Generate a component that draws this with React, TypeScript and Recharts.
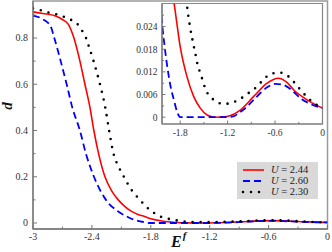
import { LineChart, Line, XAxis, YAxis, ReferenceArea } from 'recharts';

// U = 2.44 (red, solid)
const redX = [-3, -2.9, -2.77, -2.7, -2.64, -2.583, -2.522, -2.471, -2.42, -2.38, -2.332, -2.267, -2.2, -2.132, -2.06, -1.996, -1.93, -1.876, -1.8, -1.715, -1.63, -1.546, -1.46, -1.36, -1.21, -1.04, -0.87, -0.7, -0.56, -0.45, -0.363, -0.195, 0];
const redY = [0.913, 0.906, 0.895, 0.88, 0.859, 0.8, 0.7, 0.6, 0.5, 0.4, 0.3, 0.2, 0.14, 0.1, 0.07, 0.05, 0.037, 0.03, 0.0187, 0.0108, 0.0055, 0.0024, 0.0006, 0, 0.0002, 0.0019, 0.0055, 0.009, 0.0103, 0.0092, 0.0072, 0.0046, 0.0024];

// U = 2.60 (blue, dashed)
const blueX = [-3, -2.895, -2.82, -2.783, -2.718, -2.657, -2.6, -2.522, -2.461, -2.379, -2.257, -2.132, -2.08, -2.03, -1.97, -1.92, -1.88, -1.84, -1.8, -1.5, -1.2, -1.13, -1.05, -0.955, -0.87, -0.786, -0.7, -0.6, -0.52, -0.45, -0.36, -0.28, -0.15, 0];
const blueY = [0.897, 0.88, 0.85, 0.8, 0.7, 0.6, 0.5, 0.4, 0.3, 0.2, 0.1, 0.05, 0.036, 0.025, 0.0144, 0.008, 0.0046, 0.0015, 0, 0, 0, 0.0002, 0.0012, 0.0028, 0.0046, 0.0064, 0.0079, 0.0088, 0.0087, 0.0081, 0.0066, 0.005, 0.0035, 0.0024];

// U = 2.30 (black, dotted)
const blackX = [-3, -2.91, -2.83, -2.73, -2.66, -2.59, -2.53, -2.48, -2.46, -2.44, -2.383, -2.318, -2.264, -2.225, -2.18, -2.13, -2.074, -2.0, -1.91, -1.85, -1.79, -1.74, -1.71, -1.68, -1.64, -1.6, -1.58, -1.546, -1.51, -1.48, -1.42, -1.34, -1.25, -1.14, -1.06, -0.955, -0.83, -0.74, -0.65, -0.545, -0.456, -0.37, -0.31, -0.26, -0.17, -0.09, 0];
const blackY = [0.928, 0.919, 0.909, 0.899, 0.887, 0.873, 0.852, 0.816, 0.8, 0.775, 0.7, 0.6, 0.5, 0.4, 0.3, 0.245, 0.2, 0.145, 0.1, 0.072, 0.05, 0.036, 0.0289, 0.0245, 0.02, 0.016, 0.0139, 0.0117, 0.0094, 0.0074, 0.0055, 0.0041, 0.0035, 0.0039, 0.0046, 0.0061, 0.0081, 0.0101, 0.0115, 0.0118, 0.0112, 0.0095, 0.008, 0.0068, 0.0048, 0.0035, 0.0024];

const mainXMajor = [-3, -2.4, -1.8, -1.2, -0.6, 0];
const mainXMinor = [-2.7, -2.1, -1.5, -0.9, -0.3];
const mainYMajor = [0, 0.2, 0.4, 0.6, 0.8];
const mainYMinor = [0.1, 0.3, 0.5, 0.7, 0.9];

const insetXMajor = [-1.8, -1.2, -0.6, 0];
const insetXMinor = [-1.5, -0.9, -0.3];
const insetYMajor = [0, 0.006, 0.012, 0.018, 0.024];
const insetYMinor = [0.003, 0.009, 0.015, 0.021, 0.027];

const toPoints = (xs: number[], ys: number[]) => xs.map((x, i) => ({ x, y: ys[i] }));

const series = [
  { u: '2.44', pts: toPoints(redX, redY), color: '#ff0000', dash: undefined, width: 1.6, cap: 'butt' },
  { u: '2.60', pts: toPoints(blueX, blueY), color: '#0000ff', dash: '7 4', width: 1.8, cap: 'butt' },
  { u: '2.30', pts: toPoints(blackX, blackY), color: '#000000', dash: '0 8', width: 2.6, cap: 'round' },
];

const FONT = '"Liberation Serif", "Times New Roman", serif';
const AXIS = '#777';
const FRAME = '#9a9a9a';

const isIn = (v: number, list: number[]) => list.some((m) => Math.abs(m - v) < 1e-9);

function makeXTick(major: number[], len: number, minorLen: number, fs: number, dy: number) {
  return (props: any) => {
    const { x, y, payload } = props;
    const big = isIn(payload.value, major);
    return (
      <g>
        <line x1={x} y1={y} x2={x} y2={y - (big ? len : minorLen)} stroke={AXIS} strokeWidth={1} />
        {big && (
          <text x={x} y={y + dy} textAnchor="middle" fontSize={fs} fontFamily={FONT} fill="#333">
            {String(payload.value)}
          </text>
        )}
      </g>
    );
  };
}

function makeYTick(major: number[], len: number, minorLen: number, fs: number, dx: number) {
  return (props: any) => {
    const { x, y, payload } = props;
    const big = isIn(payload.value, major);
    return (
      <g>
        <line x1={x} y1={y} x2={x + (big ? len : minorLen)} y2={y} stroke={AXIS} strokeWidth={1} />
        {big && (
          <text x={x - dx} y={y + 3.5} textAnchor="end" fontSize={fs} fontFamily={FONT} fill="#333">
            {String(payload.value)}
          </text>
        )}
      </g>
    );
  };
}

const mainXDomain: [number, number] = [-3, 0];
const mainYDomain: [number, number] = [-0.026, 0.96];
const insetXDomain: [number, number] = [-2.03, 0];
const insetYDomain: [number, number] = [-0.0018, 0.0301];

function lines() {
  return series.map((s) => (
    <Line
      key={s.u}
      data={s.pts}
      dataKey="y"
      type="monotone"
      stroke={s.color}
      strokeWidth={s.width}
      strokeDasharray={s.dash}
      strokeLinecap={s.cap as any}
      dot={false}
      activeDot={false}
      isAnimationActive={false}
    />
  ));
}

export default function App() {
  return (
    <div style={{ position: 'absolute', left: 0, top: 0, width: 332, height: 252, background: '#fff' }}>
      <LineChart width={332} height={252} margin={{ top: 1, right: 4.5, bottom: 3, left: 8 }}>
        <XAxis
          dataKey="x"
          type="number"
          domain={mainXDomain}
          allowDataOverflow
          ticks={[...mainXMajor, ...mainXMinor]}
          interval={0}
          tickSize={0}
          tickMargin={0}
          tickLine={false}
          tick={makeXTick(mainXMajor, 4, 2.5, 10, 11)}
          height={20}
          axisLine={{ stroke: AXIS, strokeWidth: 1.3 }}
        />
        <YAxis
          type="number"
          domain={mainYDomain}
          allowDataOverflow
          ticks={[...mainYMajor, ...mainYMinor]}
          interval={0}
          tickSize={0}
          tickMargin={0}
          tickLine={false}
          tick={makeYTick(mainYMajor, 4, 2.5, 10, 5)}
          width={25}
          axisLine={{ stroke: AXIS, strokeWidth: 1.3 }}
        />
        <ReferenceArea x1={mainXDomain[0]} x2={mainXDomain[1]} y1={mainYDomain[0]} y2={mainYDomain[1]} fill="none" stroke={FRAME} strokeWidth={1.5} />
        {lines()}
      </LineChart>

      <div style={{ position: 'absolute', left: 0, top: 0 }}>
        <LineChart width={332} height={145} margin={{ top: 3.5, right: 9.5, bottom: 1, left: 132 }}>
          <XAxis
            dataKey="x"
            type="number"
            domain={insetXDomain}
            allowDataOverflow
            ticks={[...insetXMajor, ...insetXMinor]}
            interval={0}
            tickSize={0}
            tickMargin={0}
            tickLine={false}
            tick={makeXTick(insetXMajor, 3.5, 2, 9.5, 12)}
            height={20}
            axisLine={{ stroke: AXIS, strokeWidth: 1.2 }}
          />
          <YAxis
            type="number"
            domain={insetYDomain}
            allowDataOverflow
            ticks={[...insetYMajor, ...insetYMinor]}
            interval={0}
            tickSize={0}
            tickMargin={0}
            tickLine={false}
            tick={makeYTick(insetYMajor, 3.5, 2, 9.5, 4.5)}
            width={30}
            axisLine={{ stroke: AXIS, strokeWidth: 1.2 }}
          />
          <ReferenceArea x1={insetXDomain[0]} x2={insetXDomain[1]} y1={insetYDomain[0]} y2={insetYDomain[1]} fill="none" stroke="#888" strokeWidth={1.2} />
          {lines()}
        </LineChart>
      </div>

      {/* axis titles */}
      <svg width={20} height={30} style={{ position: 'absolute', left: 0, top: 91 }}>
        <text
          x={12}
          y={15}
          transform="rotate(-90 12 15)"
          textAnchor="middle"
          fontFamily={FONT}
          fontSize={15}
          fontWeight="bold"
          fontStyle="italic"
          fill="#111"
        >
          d
        </text>
      </svg>
      <svg width={30} height={22} style={{ position: 'absolute', left: 168, top: 230 }}>
        <text x={3} y={17} fontFamily={FONT} fontSize={16} fontWeight="bold" fontStyle="italic" fill="#111">
          E
          <tspan dx={1} dy={-8} fontSize={11}>f</tspan>
        </text>
      </svg>

      {/* legend */}
      <div
        style={{
          position: 'absolute', left: 237, top: 162, width: 81, height: 37, background: '#d9d9d9',
          boxSizing: 'border-box', paddingTop: 2,
        }}
      >
        {series.map((s) => (
          <div key={s.u} style={{ display: 'flex', alignItems: 'center', height: 11 }}>
            <svg width={30} height={10} style={{ flex: 'none' }}>
              <line x1={6} y1={5} x2={27} y2={5} stroke={s.color} strokeWidth={s.width} strokeDasharray={s.dash} strokeLinecap={s.cap as any} />
            </svg>
            <span style={{ fontFamily: FONT, fontSize: 10.5, lineHeight: '10px', color: '#222', marginLeft: 4, whiteSpace: 'nowrap' }}>
              <i>U</i> = {s.u}
            </span>
          </div>
        ))}
      </div>
    </div>
  );
}
